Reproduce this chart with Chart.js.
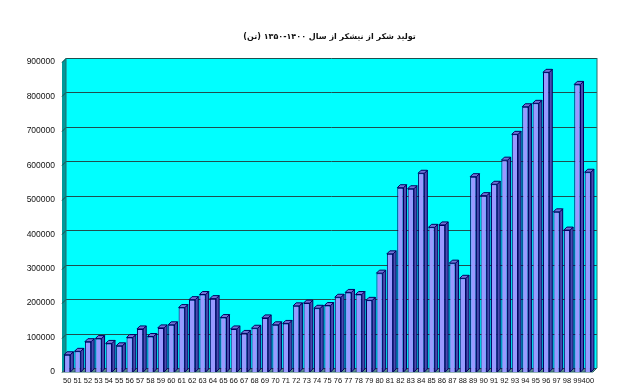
<!DOCTYPE html>
<html>
<head>
<meta charset="utf-8">
<script src="https://cdn.jsdelivr.net/npm/chart.js@4"></script>
<style>
    html, body { margin: 0; padding: 0; background: #fff; }
    #wrap { width: 620px; height: 392px; }
</style>
</head>
<body>
<div id="wrap"><canvas id="chart" width="620" height="392"></canvas></div>
<script>
// years (last two digits, 1400 is cut to "400" in the original)
const years = ['50', '51', '52', '53', '54', '55', '56', '57', '58', '59',
    '60', '61', '62', '63', '64', '65', '66', '67', '68', '69',
    '70', '71', '72', '73', '74', '75', '76', '77', '78', '79',
    '80', '81', '82', '83', '84', '85', '86', '87', '88', '89',
    '90', '91', '92', '93', '94', '95', '96', '97', '98', '99', '400'];

// sugar from sugarcane, tonnes
const production = [50000, 60000, 88000, 97000, 83000, 76000, 100000, 125000, 103000, 128000,
    137000, 187000, 210000, 225000, 213000, 158000, 125000, 112000, 127000, 157000,
    137000, 141000, 192000, 200000, 185000, 193000, 217000, 231000, 225000, 208000,
    287000, 343000, 535000, 532000, 577000, 420000, 427000, 316000, 272000, 567000,
    512000, 545000, 615000, 690000, 770000, 780000, 870000, 465000, 412000, 835000, 580000];

const yMax = 900000;
const yStep = 100000;

const chartTitle = 'تولید شکر از نیشکر از سال ۱۴۰۰-۱۳۵۰ (تن)';

const depth = 4; // fake 3d depth, px

// back wall, left wall, floor and gridlines
const wallPlugin = {
    id: 'wall',
    beforeDatasetsDraw(chart) {
        const { ctx, chartArea: a, scales: { y } } = chart;
        ctx.save();

        // back wall
        ctx.fillStyle = '#00ffff';
        ctx.fillRect(a.left + depth, a.top - depth, a.right - a.left, a.bottom - a.top);

        // left wall
        ctx.fillStyle = '#009999';
        ctx.beginPath();
        ctx.moveTo(a.left, a.top);
        ctx.lineTo(a.left + depth, a.top - depth);
        ctx.lineTo(a.left + depth, a.bottom - depth);
        ctx.lineTo(a.left, a.bottom);
        ctx.closePath();
        ctx.fill();

        // floor
        ctx.fillStyle = '#5f9090';
        ctx.beginPath();
        ctx.moveTo(a.left, a.bottom);
        ctx.lineTo(a.left + depth, a.bottom - depth);
        ctx.lineTo(a.right + depth, a.bottom - depth);
        ctx.lineTo(a.right, a.bottom);
        ctx.closePath();
        ctx.fill();

        // grid lines on the back wall, with the short slant on the left wall
        ctx.strokeStyle = '#1f4f4f';
        ctx.lineWidth = 1;
        y.ticks.forEach((t) => {
            const py = Math.round(y.getPixelForValue(t.value)) + 0.5;
            ctx.beginPath();
            ctx.moveTo(a.left, py);
            ctx.lineTo(a.left + depth, py - depth);
            ctx.lineTo(a.right + depth, py - depth);
            ctx.stroke();
        });

        // outline of the walls
        ctx.strokeStyle = '#2a6a6a';
        ctx.beginPath();
        ctx.moveTo(a.left + depth, a.bottom - depth);
        ctx.lineTo(a.left + depth, a.top - depth);
        ctx.moveTo(a.right + depth, a.top - depth);
        ctx.lineTo(a.right + depth, a.bottom - depth);
        ctx.lineTo(a.right, a.bottom);
        ctx.lineTo(a.left, a.bottom);
        ctx.stroke();
        ctx.restore();
    }
};

// side and top faces of each bar
const bar3dPlugin = {
    id: 'bar3d',
    afterDatasetsDraw(chart) {
        const { ctx } = chart;
        const d = depth - 1;
        ctx.save();
        ctx.lineWidth = 1;
        ctx.strokeStyle = '#000060';
        chart.getDatasetMeta(0).data.forEach((bar) => {
            const { x, y, base, width } = bar.getProps(['x', 'y', 'base', 'width'], true);
            const l = x - width / 2;
            const r = x + width / 2;

            ctx.fillStyle = '#4b4bae';
            ctx.beginPath();
            ctx.moveTo(r, y);
            ctx.lineTo(r + d, y - d);
            ctx.lineTo(r + d, base - d);
            ctx.lineTo(r, base);
            ctx.closePath();
            ctx.fill();
            ctx.stroke();

            ctx.fillStyle = '#7373d6';
            ctx.beginPath();
            ctx.moveTo(l, y);
            ctx.lineTo(l + d, y - d);
            ctx.lineTo(r + d, y - d);
            ctx.lineTo(r, y);
            ctx.closePath();
            ctx.fill();
            ctx.stroke();
        });
        ctx.restore();
    }
};

// title drawn right to left, centred over the plot
const titlePlugin = {
    id: 'rtlTitle',
    afterDraw(chart) {
        const { ctx, chartArea: a } = chart;
        ctx.save();
        ctx.direction = 'rtl';
        ctx.textAlign = 'center';
        ctx.textBaseline = 'middle';
        ctx.fillStyle = '#111';
        ctx.font = 'bold 8px "DejaVu Sans", sans-serif';
        ctx.fillText(chartTitle, (a.left + a.right) / 2 + 2, 37);
        ctx.restore();
    }
};

new Chart(document.getElementById('chart'), {
    type: 'bar',
    data: {
        labels: years,
        datasets: [{
            data: production,
            backgroundColor: '#9999ff',
            borderColor: '#000060',
            borderWidth: 1,
            barPercentage: 0.6,
            categoryPercentage: 1
        }]
    },
    options: {
        responsive: false,
        animation: false,
        events: [],
        layout: {
            padding: { top: 62, right: 27, bottom: 0, left: 0 }
        },
        plugins: {
            legend: { display: false },
            tooltip: { enabled: false },
            title: { display: false }
        },
        scales: {
            x: {
                grid: { display: false, drawTicks: false },
                border: { display: false },
                ticks: {
                    autoSkip: false,
                    maxRotation: 0,
                    minRotation: 0,
                    padding: 4,
                    color: '#111',
                    font: { family: '"Liberation Sans", Arial, sans-serif', size: 7.5 }
                },
                afterFit: (scale) => { scale.height = 20; }
            },
            y: {
                min: 0,
                max: yMax,
                grid: { display: false, drawTicks: false },
                border: { display: false },
                ticks: {
                    stepSize: yStep,
                    padding: 7,
                    color: '#111',
                    font: { family: '"Liberation Sans", Arial, sans-serif', size: 8.5 },
                    callback: (v) => String(v)
                },
                afterFit: (scale) => { scale.width = 62; }
            }
        }
    },
    plugins: [wallPlugin, bar3dPlugin, titlePlugin]
});
</script>
</body>
</html>
